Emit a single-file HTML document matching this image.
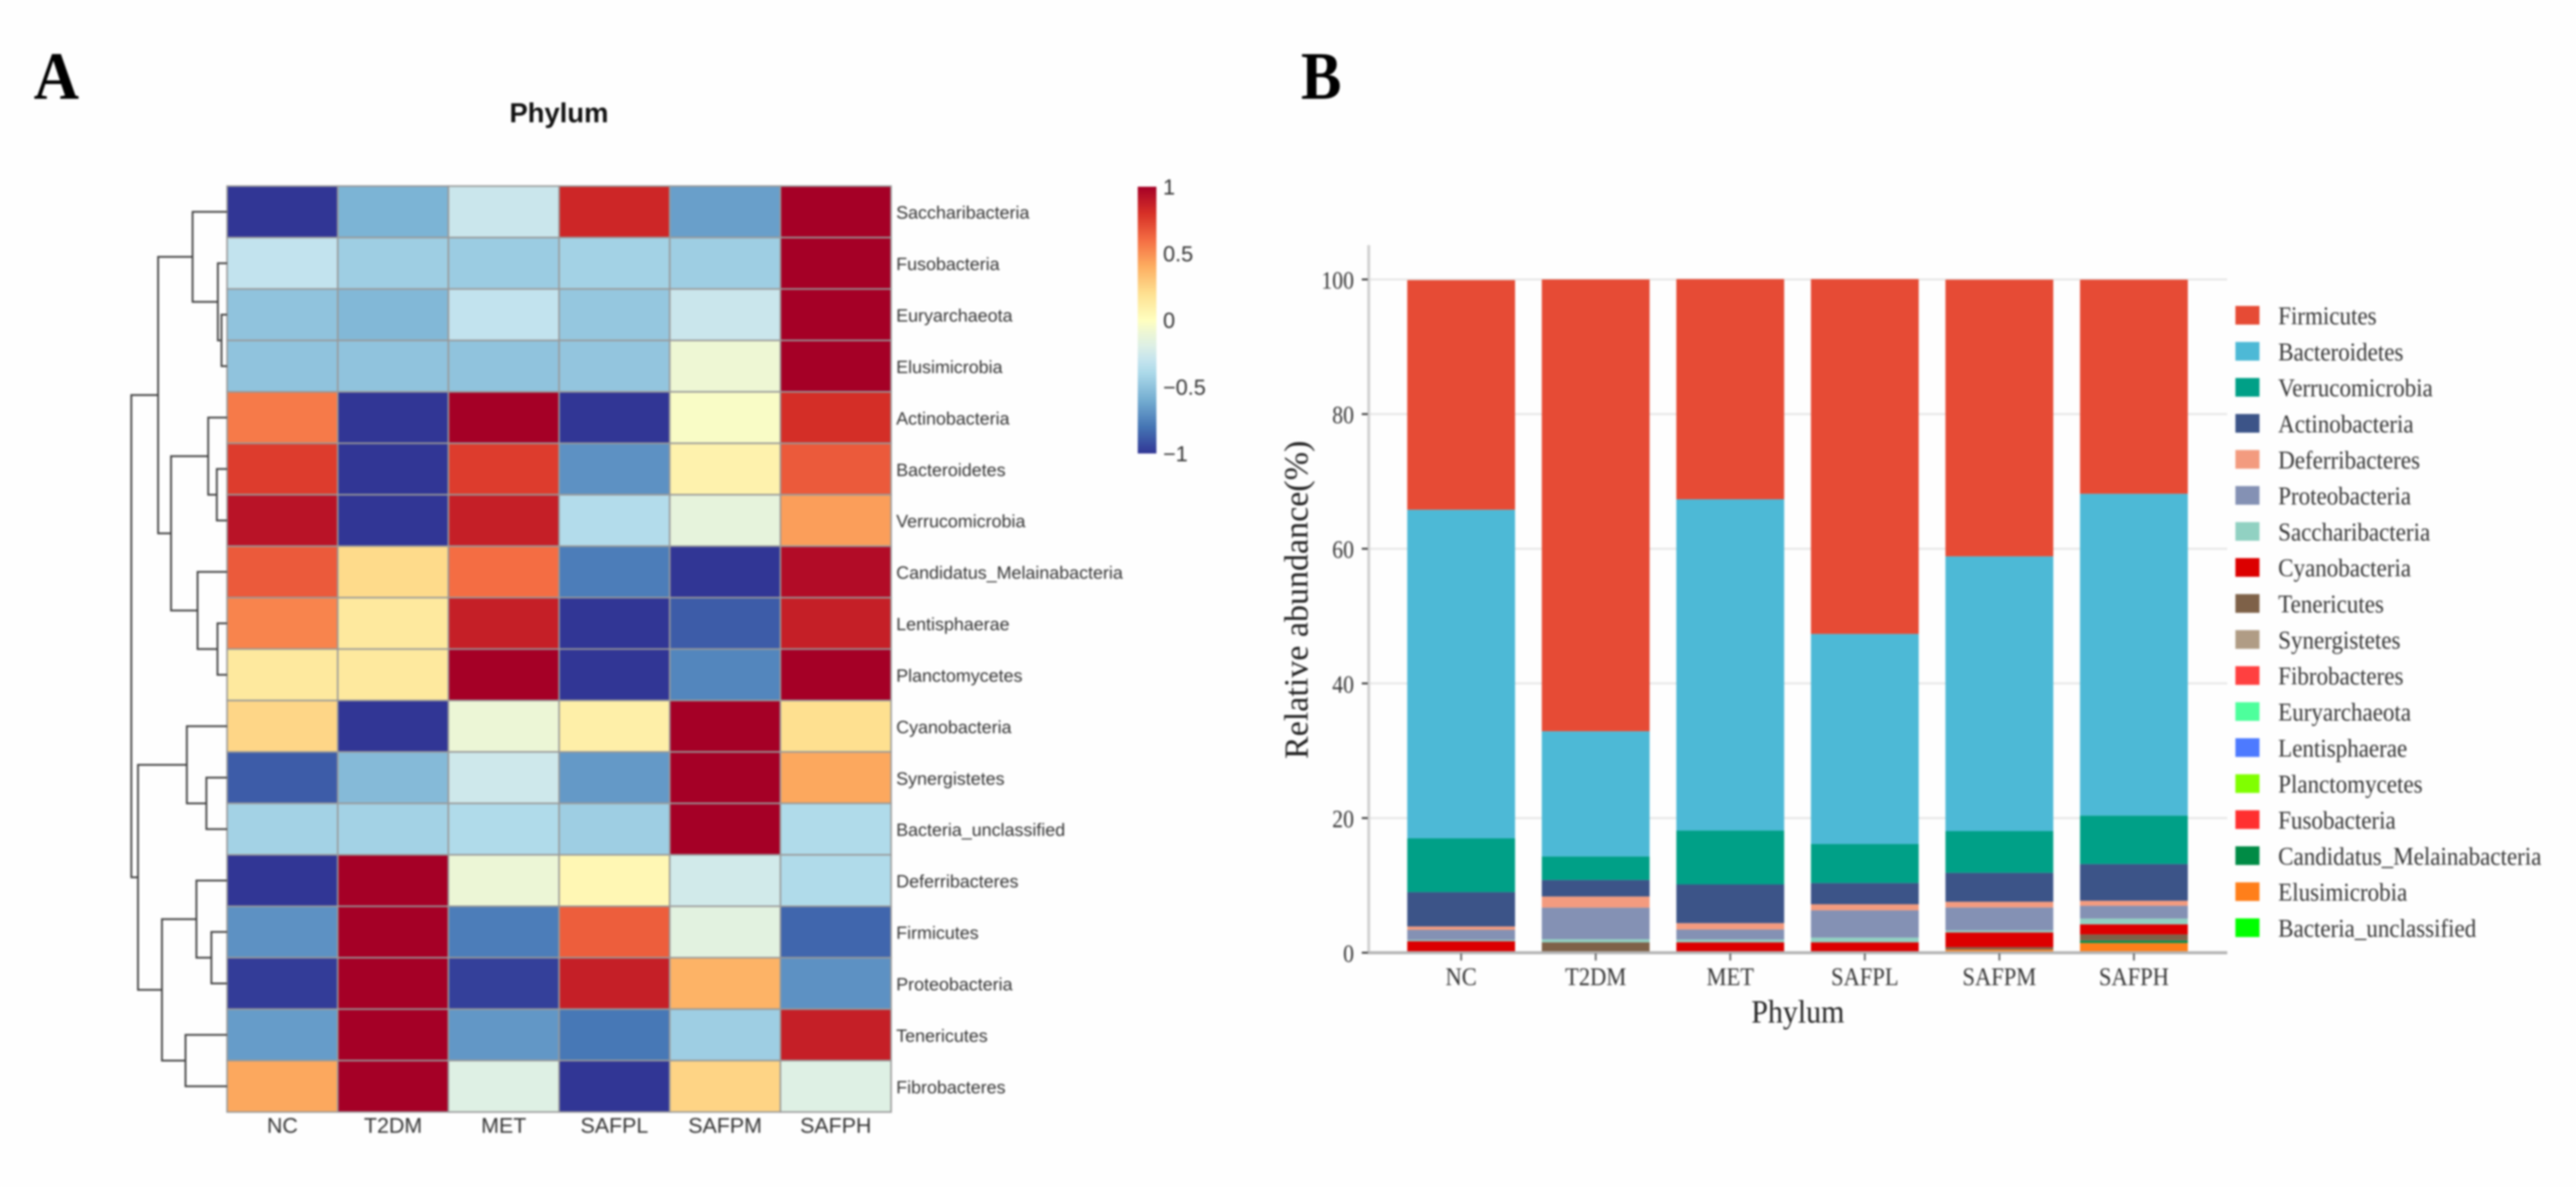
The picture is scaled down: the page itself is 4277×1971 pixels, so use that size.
<!DOCTYPE html>
<html lang="en">
<head>
<meta charset="utf-8">
<title>Phylum heatmap and relative abundance</title>
<style>
html,body{margin:0;padding:0;background:#fefefe;width:4277px;height:1971px;overflow:hidden}
svg{display:block;filter:blur(1.5px)}
.sans{font-family:"Liberation Sans",Arial,sans-serif}
.serif{font-family:"Liberation Serif","Times New Roman",serif}
</style>
</head>
<body>
<svg id="fig" xmlns="http://www.w3.org/2000/svg" width="4277" height="1971" viewBox="0 0 4277 1971">
  <rect x="0" y="0" width="4277" height="1971" fill="#fefefe"/>
  <text class="serif" transform="translate(56,164) scale(0.93,1)" font-size="112" font-weight="bold" fill="#000">A</text>
  <text class="serif" transform="translate(2160,164) scale(0.9,1)" font-size="112" font-weight="bold" fill="#000">B</text>
  <text class="sans" x="928" y="203" font-size="45.5" font-weight="bold" text-anchor="middle" fill="#111">Phylum</text>
  <g id="heat-grid"></g>
  <g id="dendro"></g>
  <g id="heat-rows"></g>
  <g id="heat-cols"></g>
  <defs>
    <linearGradient id="cbar" x1="0" y1="1" x2="0" y2="0"></linearGradient>
  </defs>
  <rect x="1889" y="310" width="31" height="443" fill="url(#cbar)"/>
  <g id="cbar-ticks"></g>
  <g id="bar-grid"></g>
  <g id="bars"></g>
  <g id="bar-axes"></g>
  <g id="legend"></g>
  <text class="serif" transform="translate(2985,1698) scale(0.92,1)" font-size="54" text-anchor="middle" fill="#222">Phylum</text>
  <text class="serif" transform="translate(2171,996) rotate(-90)" font-size="56.5" text-anchor="middle" fill="#222">Relative abundance(%)</text>
</svg>
<script>
/* ---------- heatmap data ---------- */
const groups = ['NC', 'T2DM', 'MET', 'SAFPL', 'SAFPM', 'SAFPH'];
const rowNames = ['Saccharibacteria', 'Fusobacteria', 'Euryarchaeota', 'Elusimicrobia', 'Actinobacteria', 'Bacteroidetes', 'Verrucomicrobia', 'Candidatus_Melainabacteria', 'Lentisphaerae', 'Planctomycetes', 'Cyanobacteria', 'Synergistetes', 'Bacteria_unclassified', 'Deferribacteres', 'Firmicutes', 'Proteobacteria', 'Tenericutes', 'Fibrobacteres'];
const heatValues = [
  [-1, -0.57, -0.28, 0.84, -0.65, 1],
  [-0.31, -0.45, -0.46, -0.43, -0.45, 1],
  [-0.5, -0.55, -0.31, -0.48, -0.28, 1],
  [-0.5, -0.5, -0.5, -0.49, -0.09, 1],
  [0.56, -1, 1, -1, -0.03, 0.81],
  [0.76, -1, 0.76, -0.7, 0.08, 0.66],
  [0.92, -1, 0.87, -0.37, -0.14, 0.45],
  [0.66, 0.22, 0.6, -0.77, -1, 0.95],
  [0.53, 0.14, 0.87, -1, -0.88, 0.87],
  [0.14, 0.14, 1, -1, -0.74, 1],
  [0.24, -1, -0.1, 0.1, 1, 0.2],
  [-0.88, -0.54, -0.26, -0.67, 1, 0.42],
  [-0.43, -0.43, -0.38, -0.45, 1, -0.38],
  [-1, 1, -0.1, 0.05, -0.25, -0.38],
  [-0.7, 1, -0.77, 0.65, -0.16, -0.85],
  [-0.98, 1, -0.97, 0.87, 0.38, -0.7],
  [-0.66, 1, -0.68, -0.79, -0.45, 0.87],
  [0.42, 1, -0.19, -1, 0.25, -0.19]
];
const colorTicks = [1, 0.5, 0, -0.5, -1];
const colorTickLabels = ['1', '0.5', '0', '\u22120.5', '\u22121'];
const palette = ['#313695', '#3b56a5', '#4575b4', '#5d91c3', '#74add1', '#90c3dd', '#abd9e9', '#c5e4ee', '#dcefe6', '#ecf6d6', '#ffffbf', '#feefa8', '#fee090', '#fdc779', '#fdae61', '#f98e52', '#f46d43', '#e54e35', '#d73027', '#be1827', '#a50026'];
/* dendrogram: [merge distance, left branch, right branch]; integers are row indices */
const rowTree = [1.0,
  [0.72,
    [0.36, 0, [0.096, 1, [0.058, 2, 3]]],
    [0.585,
      [0.197, 4, [0.107, 5, 6]],
      [0.308, 7, [0.1, 8, 9]]]],
  [0.93,
    [0.42, 10, [0.216, 11, 12]],
    [0.68,
      [0.32, 13, [0.164, 14, 15]],
      [0.434, 16, 17]]]];

/* ---------- stacked bar data (percent) ---------- */
const seriesNames = ['Firmicutes', 'Bacteroidetes', 'Verrucomicrobia', 'Actinobacteria', 'Deferribacteres', 'Proteobacteria', 'Saccharibacteria', 'Cyanobacteria', 'Tenericutes', 'Synergistetes', 'Fibrobacteres', 'Euryarchaeota', 'Lentisphaerae', 'Planctomycetes', 'Fusobacteria', 'Candidatus_Melainabacteria', 'Elusimicrobia', 'Bacteria_unclassified'];
const seriesColors = ['#e64b35', '#4db9d6', '#00a087', '#3c5488', '#f39b7f', '#8491b4', '#91d1c2', '#dc0000', '#7e6148', '#b09c85', '#ff4040', '#4dff9c', '#4d7aff', '#80ff00', '#ff3030', '#008b45', '#ff7f1a', '#00ff00'];
const firmicutes = [34.1, 67.1, 32.7, 52.7, 41.1, 31.8];
const bacteroidetes = [48.8, 18.6, 49.2, 31.2, 40.8, 47.8];
const verrucomicrobia = [8.0, 3.5, 8.0, 5.8, 6.2, 7.2];
const actinobacteria = [5.1, 2.45, 5.75, 3.15, 4.3, 5.45];
const deferribacteres = [0.5, 1.65, 0.95, 0.9, 0.85, 0.75];
const proteobacteria = [1.5, 4.7, 1.5, 4.05, 3.4, 1.9];
const saccharibacteria = [0.2, 0.45, 0.4, 0.7, 0.3, 0.85];
const cyanobacteria = [1.7, 0, 1.55, 1.55, 2.2, 1.5];
const tenericutes = [0, 1.55, 0, 0, 0.35, 0.9];
const synergistetes = [0, 0, 0, 0, 0.02, 0.02];
const fibrobacteres = [0, 0, 0, 0, 0, 0];
const euryarchaeota = [0, 0, 0, 0, 0, 0];
const lentisphaerae = [0, 0, 0, 0, 0, 0];
const planctomycetes = [0, 0, 0, 0, 0, 0];
const fusobacteria = [0, 0, 0, 0, 0, 0];
const candidatus = [0, 0, 0, 0, 0, 0.35];
const elusimicrobia = [0, 0, 0, 0, 0.45, 1.45];
const bacteriaUnclassified = [0, 0, 0, 0, 0, 0];
const seriesValues = [firmicutes, bacteroidetes, verrucomicrobia, actinobacteria, deferribacteres, proteobacteria, saccharibacteria, cyanobacteria, tenericutes, synergistetes, fibrobacteres, euryarchaeota, lentisphaerae, planctomycetes, fusobacteria, candidatus, elusimicrobia, bacteriaUnclassified];
const yTicks = [0, 20, 40, 60, 80, 100];

/* ---------- helpers ---------- */
const NS = 'http://www.w3.org/2000/svg';
function mk(tag, parentId, attrs) {
  const el = document.createElementNS(NS, tag);
  for (const k in attrs) el.setAttribute(k, attrs[k]);
  document.getElementById(parentId).appendChild(el);
  return el;
}
function slug(s) { return s.toLowerCase().replace(/[^a-z0-9]+/g, '-'); }
function hex2rgb(h) { return [1, 3, 5].map(i => parseInt(h.substr(i, 2), 16)); }
function heatColor(v) {
  const t = Math.max(0, Math.min(1, (v + 1) / 2)) * (palette.length - 1);
  const i = Math.min(palette.length - 2, Math.floor(t));
  const f = t - i;
  const a = hex2rgb(palette[i]), b = hex2rgb(palette[i + 1]);
  return 'rgb(' + a.map((c, j) => Math.round(c + (b[j] - c) * f)).join(',') + ')';
}

/* ---------- heatmap scales ---------- */
const heatLeft = 377, heatRight = 1479.5, heatTop = 309, heatBottom = 1846.5;
const cellW = (heatRight - heatLeft) / groups.length;
const cellH = (heatBottom - heatTop) / rowNames.length;
const colX = i => heatLeft + i * cellW;
const rowY = i => heatTop + i * cellH;
const rowCenter = i => rowY(i) + cellH / 2;
const dendX = d => heatLeft - d * 159;

heatValues.forEach((row, r) => {
  row.forEach((v, c) => {
    const cell = mk('rect', 'heat-grid', {x: colX(c), y: rowY(r), width: cellW, height: cellH, fill: heatColor(v), stroke: '#999', 'stroke-width': 2.6});
    
    
  });
});
rowNames.forEach((name, r) => {
  const t = mk('text', 'heat-rows', {class: 'sans', x: 1488, y: rowCenter(r) + 11.5, 'font-size': 29.7, fill: '#333'});
  t.textContent = name;
  
  
});
groups.forEach((name, c) => {
  const t = mk('text', 'heat-cols', {class: 'sans', x: colX(c) + cellW / 2, y: 1881, 'font-size': 35.5, 'text-anchor': 'middle', fill: '#333'});
  t.textContent = name;
  
  
});

/* ---------- dendrogram ---------- */
function drawBranch(node) {
  if (typeof node === 'number') return {x: heatLeft, y: rowCenter(node)};
  const a = drawBranch(node[1]);
  const b = drawBranch(node[2]);
  const x = dendX(node[0]);
  const link = mk('path', 'dendro', {d: 'M' + a.x + ' ' + a.y + 'H' + x + 'V' + b.y + 'H' + b.x, fill: 'none', stroke: '#404040', 'stroke-width': 3});
  
  
  return {x: x, y: (a.y + b.y) / 2};
}
drawBranch(rowTree);

/* ---------- colorbar ---------- */
palette.forEach((col, i) => {
  mk('stop', 'cbar', {offset: i / (palette.length - 1), 'stop-color': col});
});
const cbarY = v => 531.5 - v * 221.5;
colorTicks.forEach((v, i) => {
  const t = mk('text', 'cbar-ticks', {class: 'sans', x: 1931, y: cbarY(v) + 13, 'font-size': 36, fill: '#333'});
  t.textContent = colorTickLabels[i];
  
  
});

/* ---------- stacked bars ---------- */
const axisLeft = 2272.5, axisRight = 3698, axisTop = 407;
const yScale = v => 1582 - v * 11.18;
const barStep = 223.4, barW = 179;
const barCenter = i => 2426 + i * barStep;

yTicks.forEach(v => {
  if (v > 0) {
    const g = mk('line', 'bar-grid', {x1: axisLeft, x2: axisRight, y1: yScale(v), y2: yScale(v), stroke: '#e8e8e8', 'stroke-width': 3.5});
    
    
  }
});
groups.forEach((name, c) => {
  let cum = 0;
  for (let s = seriesNames.length - 1; s >= 0; s--) {
    const v = seriesValues[s][c];
    if (v <= 0) continue;
    const top = yScale(cum + v), bottom = yScale(cum);
    const seg = mk('rect', 'bars', {x: barCenter(c) - barW / 2, y: top, width: barW, height: bottom - top, fill: seriesColors[s]});
    
    
    cum += v;
  }
});

/* axes */
const yAxisLine = mk('line', 'bar-axes', {x1: axisLeft, x2: axisLeft, y1: axisTop, y2: 1583, stroke: '#d2d2d2', 'stroke-width': 5});


const xAxisLine = mk('line', 'bar-axes', {x1: axisLeft - 2, x2: axisRight, y1: 1582, y2: 1582, stroke: '#b4b4b4', 'stroke-width': 5});


yTicks.forEach(v => {
  const tick = mk('line', 'bar-axes', {x1: 2261, x2: 2271, y1: yScale(v), y2: yScale(v), stroke: '#333', 'stroke-width': 3});
  
  
  const lab = mk('text', 'bar-axes', {class: 'serif', transform: 'translate(2248,' + (yScale(v) + 15) + ') scale(0.88,1)', 'font-size': 41, 'text-anchor': 'end', fill: '#333'});
  lab.textContent = String(v);
  
  
});
groups.forEach((name, c) => {
  const tick = mk('line', 'bar-axes', {x1: barCenter(c), x2: barCenter(c), y1: 1583, y2: 1595, stroke: '#666', 'stroke-width': 3});
  
  
  const lab = mk('text', 'bar-axes', {class: 'serif', transform: 'translate(' + barCenter(c) + ',1636) scale(0.89,1)', 'font-size': 42, 'text-anchor': 'middle', fill: '#333'});
  lab.textContent = name;
  
  
});

/* legend */
const legendY = i => 523.5 + i * 59.82;
seriesNames.forEach((name, i) => {
  const sw = mk('rect', 'legend', {x: 3711.5, y: legendY(i) - 15.5, width: 40, height: 31, fill: seriesColors[i]});
  
  
  const t = mk('text', 'legend', {class: 'serif', transform: 'translate(3782.5,' + (legendY(i) + 15) + ') scale(0.91,1)', 'font-size': 42, fill: '#333'});
  t.textContent = name;
  
  
});
</script>
</body>
</html>
